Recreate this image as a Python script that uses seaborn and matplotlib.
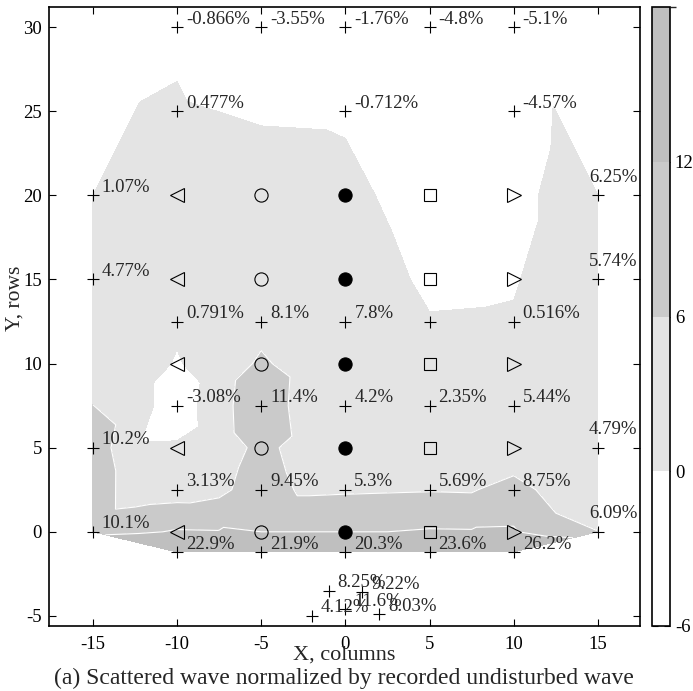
import numpy as np
import matplotlib
matplotlib.use("Agg")
import matplotlib.pyplot as plt
import matplotlib.tri as mtri
from matplotlib.colors import ListedColormap, BoundaryNorm
import matplotlib.cm as cm
import seaborn as sns

# ---------------- data ----------------
# measurement points (x column, y row) and printed normalized scattered wave in %
pt_x = [-10, -5, 0, 5, 10,
        -10, 0, 10,
        -15, 15,
        -15, 15,
        -10, -5, 0, 5, 10,
        -10, -5, 0, 5, 10,
        -15, 15,
        -10, -5, 0, 5, 10,
        -15, 15,
        -10, -5, 0, 5, 10]
pt_y = [30, 30, 30, 30, 30,
        25, 25, 25,
        20, 20,
        15, 15,
        12.5, 12.5, 12.5, 12.5, 12.5,
        7.5, 7.5, 7.5, 7.5, 7.5,
        5, 5,
        2.5, 2.5, 2.5, 2.5, 2.5,
        0, 0,
        -1.2, -1.2, -1.2, -1.2, -1.2]
pt_val = [-0.866, -3.55, -1.76, -4.8, -5.1,
          0.477, -0.712, -4.57,
          1.07, 6.25,
          4.77, 5.74,
          0.791, 8.1, 7.8, None, 0.516,
          -3.08, 11.4, 4.2, 2.35, 5.44,
          10.2, 4.79,
          3.13, 9.45, 5.3, 5.69, 8.75,
          10.1, 6.09,
          22.9, 21.9, 20.3, 23.6, 26.2]

# extra points below the grid
cl_x = [-1, 1, -2, 0, 2]
cl_y = [-3.5, -3.6, -5, -4.6, -4.9]
cl_val = [8.25, 9.22, 4.12, 11.6, 8.03]

# shaded field, read from the grey levels of the picture (nan = no node)
nan = np.nan
field_cols = [-15, -12.5, -10, -7.5, -5, -2.5, 0, 2.5, 5, 7.5, 10, 12.5, 15]
field_rows = [30, 25, 20, 15, 12.5, 10, 7.5, 5, 2.5, 0, -1.2]
field_r30 = [nan, nan, -0.866, nan, -3.55, nan, -1.76, nan, -4.8, nan, -5.1, nan, nan]
field_r25 = [nan, nan, 0.477, nan, nan, nan, -0.712, nan, nan, nan, -4.57, nan, nan]
field_r20 = [1.07, nan, 2.5, nan, 2.5, nan, 1.5, nan, -2.7, nan, -2.4, nan, 5.8]
field_r15 = [4.77, nan, 3.0, nan, 3.0, nan, 3.4, nan, -1.0, nan, -0.5, nan, 5.74]
field_r12 = [nan, nan, 0.791, nan, 4.0, nan, 4.0, nan, 0.3, nan, 0.516, nan, nan]
field_r10 = [2.0, 2.5, -0.4, 2.5, 6.9, 3.5, 3.5, nan, 3.0, nan, 3.0, nan, nan]
field_r7 = [nan, 2.5, -3.08, 3.3, 11.4, 3.0, 4.2, nan, 2.35, nan, 5.44, nan, nan]
field_r5 = [10.2, 0.5, 0.6, 3.0, 7.5, 4.0, 4.5, nan, 4.0, nan, 0.5, nan, 4.79]
field_r2 = [nan, 2.5, 3.13, 4.5, 9.45, 5.0, 5.3, 5.5, 5.69, 5.5, 8.75, 3.5, nan]
field_r0 = [10.1, 11.0, 12.5, 12.3, 12.0, 12.0, 12.0, 12.0, 12.5, 12.4, 12.5, 8.0, 6.09]
field_rm = [nan, nan, 22.9, nan, 21.9, nan, 20.3, nan, 23.6, nan, 26.2, nan, nan]

# model symbols
sym_cols = [-10, -5, 0, 5, 10]
sym_rows = [20, 15, 10, 5, 0]
sym_markers = ['<', 'o', 'o', 's', '>']
sym_filled = [False, False, True, False, False]

levels = [-6, 0, 6, 12, 18]
fill_colors = ['#ffffff', '#e4e4e4', '#cacaca', '#bfbfbf']
x_ticks = [-15, -10, -5, 0, 5, 10, 15]
y_ticks = [-5, 0, 5, 10, 15, 20, 25, 30]

# ---------------- style ----------------
sns.set_theme(style="ticks")
plt.rcParams['font.family'] = ['Liberation Serif', 'DejaVu Serif']
plt.rcParams['axes.unicode_minus'] = False

W, H = 693, 691
fig = plt.figure(figsize=(W / 100, H / 100), dpi=100)
ax = fig.add_axes([49 / W, 1 - 626 / H, (640 - 49) / W, (626 - 7) / H])
cax = fig.add_axes([652 / W, 1 - 626 / H, 18 / W, (626 - 7) / H])

# ---------------- filled contours ----------------
grid = np.array([field_r30, field_r25, field_r20, field_r15, field_r12,
                 field_r10, field_r7, field_r5, field_r2, field_r0, field_rm])
gx, gy = np.meshgrid(field_cols, field_rows)
ok = ~np.isnan(grid)
tri = mtri.Triangulation(gx[ok], gy[ok])
fv = grid[ok]
ax.tricontourf(tri, fv, levels=levels + [40],
               colors=fill_colors + [fill_colors[-1]], zorder=1)
ax.tricontour(tri, fv, levels=[6, 12], colors='white',
              linewidths=0.8, zorder=2)

# ---------------- symbols ----------------
for xc, m, filled in zip(sym_cols, sym_markers, sym_filled):
    ms = {'<': 10, '>': 10, 'o': 9.5, 's': 9}[m]
    ax.plot([xc] * len(sym_rows), sym_rows, linestyle='none', marker=m,
            markersize=ms, markeredgecolor='black', markeredgewidth=0.8,
            markerfacecolor='black' if filled else 'none', zorder=4)

all_x = pt_x + cl_x
all_y = pt_y + cl_y
sns.scatterplot(x=all_x, y=all_y, marker='+', color='black', s=80,
                linewidth=0.8, ax=ax, zorder=5, legend=False)

fs = 13.5
for x, y, v in zip(pt_x, pt_y, pt_val):
    if v is None:
        continue
    off = (-6.5, 10) if x == 15 else (6.5, 2.5)
    ax.annotate(f"{v:g}%", (x, y), xytext=off, textcoords='offset points',
                ha='left', va='baseline', fontsize=fs, zorder=6)
for x, y, v in zip(cl_x, cl_y, cl_val):
    ax.annotate(f"{v:g}%", (x, y), xytext=(6.5, 2.5), textcoords='offset points',
                ha='left', va='baseline', fontsize=fs, zorder=6)

# ---------------- axes ----------------
ax.set_xlim(-17.6, 17.5)
ax.set_ylim(-5.6, 31.2)
ax.set_xticks(x_ticks)
ax.set_yticks(y_ticks)
ax.tick_params(direction='in', top=True, right=True, length=5, width=0.8,
               labelsize=13.5, colors='black')
ax.tick_params(axis='x', pad=7)
ax.tick_params(axis='y', pad=5)
for s in ax.spines.values():
    s.set_linewidth(1.2)
    s.set_color('black')
ax.set_facecolor('white')
ax.set_xlabel('X, columns', fontsize=16)
ax.xaxis.set_label_coords(0.5, -0.031)
ax.set_ylabel('Y, rows', fontsize=15.5)
ax.yaxis.set_label_coords(-0.042, 0.53)

fig.text(344 / W, 1 - 678 / H,
         '(a) Scattered wave normalized by recorded undisturbed wave',
         ha='center', va='center', fontsize=17)

# ---------------- colorbar ----------------
cmap = ListedColormap(fill_colors)
norm = BoundaryNorm(levels, cmap.N)
cb = fig.colorbar(cm.ScalarMappable(norm=norm, cmap=cmap), cax=cax,
                  ticks=[-6, 0, 6, 12])
cb.ax.tick_params(direction='in', left=True, right=True, length=4,
                  width=0.8, labelsize=13.5, colors='black')
cb.outline.set_linewidth(1.2)
cb.outline.set_edgecolor('black')
cb.ax.yaxis.set_major_formatter(matplotlib.ticker.FormatStrFormatter('%g'))

fig.savefig('out.png', dpi=100, facecolor='white')
